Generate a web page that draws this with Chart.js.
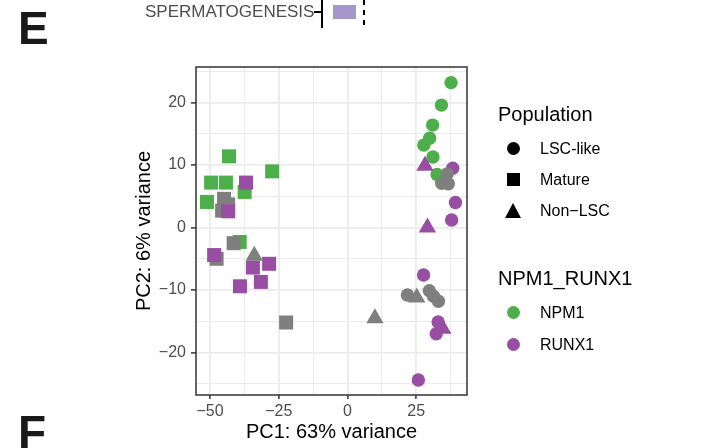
<!DOCTYPE html>
<html>
<head>
<meta charset="utf-8">
<script src="https://cdn.jsdelivr.net/npm/chart.js@4.4.1/dist/chart.umd.min.js"></script>
<style>
  body { margin: 0; background: #fff; font-family: "Liberation Sans", Arial, sans-serif; }
  #page { position: relative; width: 705px; height: 448px; overflow: hidden; }
  #chart { position: absolute; left: 0; top: 0; }
  .abs { position: absolute; white-space: nowrap; }
  .panel-letter { font-weight: bold; font-size: 46px; line-height: 46px; color: #1a1a1a; }
  .lg-title { font-size: 20px; line-height: 24px; color: #000; }
  .lg-item { font-size: 16px; line-height: 20px; color: #000; }
  .key-circle { width: 13px; height: 13px; border-radius: 50%; }
  .key-square { width: 13px; height: 13px; background: #000; }
  .key-tri { width: 0; height: 0; border-left: 8.5px solid transparent; border-right: 8.5px solid transparent; border-bottom: 15px solid #000; }
</style>
</head>
<body>
<div id="page">
  <canvas id="chart" width="705" height="448"></canvas>

  <!-- bits of the figure above panel E -->
  <div class="abs" style="left:145px; top:2px; font-size:17px; line-height:20px; color:#4d4d4d;">SPERMATOGENESIS</div>
  <div class="abs" style="left:314px; top:11px; width:8px; height:2px; background:#000;"></div>
  <div class="abs" style="left:321px; top:0; width:2px; height:28px; background:#000;"></div>
  <div class="abs" style="left:333px; top:5px; width:23px; height:14px; background:#a397cb;"></div>
  <div class="abs" style="left:363px; top:0; width:2px; height:28px; background:repeating-linear-gradient(#000 0 5px, transparent 5px 10px);"></div>

  <div class="abs panel-letter" style="left:18px; top:5px;">E</div>
  <div class="abs panel-letter" style="left:18px; top:409px;">F</div>

  <!-- legend -->
  <div class="abs lg-title" style="left:498px; top:102px;">Population</div>
  <div class="abs key-circle" style="left:507px; top:142px; background:#000;"></div>
  <div class="abs lg-item" style="left:540px; top:139px;">LSC-like</div>
  <div class="abs key-square" style="left:507px; top:173px;"></div>
  <div class="abs lg-item" style="left:540px; top:170px;">Mature</div>
  <div class="abs key-tri" style="left:505px; top:203px;"></div>
  <div class="abs lg-item" style="left:540px; top:201px;">Non&minus;LSC</div>

  <div class="abs lg-title" style="left:498px; top:266px;">NPM1_RUNX1</div>
  <div class="abs key-circle" style="left:507px; top:306px; background:#4daf4a;"></div>
  <div class="abs lg-item" style="left:540px; top:303px;">NPM1</div>
  <div class="abs key-circle" style="left:507px; top:338px; background:#984ea3;"></div>
  <div class="abs lg-item" style="left:540px; top:335px;">RUNX1</div>
</div>

<script>
// axis breaks (labelled ones are the major grid lines)
const xTicks = [-50, -37.5, -25, -12.5, 0, 12.5, 25, 37.5]
const xMajor = [-50, -25, 0, 25]
const yTicks = [-25, -20, -15, -10, -5, 0, 5, 10, 15, 20, 25]
const yMajor = [-20, -10, 0, 10, 20]

// [PC1, PC2] per sample, split by population and genotype
const lscNpm1 = [[37.7, 23.2], [34.2, 19.6], [31.0, 16.4], [29.9, 14.3], [27.8, 13.2], [31.1, 11.3], [32.6, 8.5]]
const lscRunx1 = [[38.3, 9.5], [39.3, 4.0], [37.9, 1.2], [27.7, -7.6], [33.0, -15.1], [32.3, -17.0], [25.8, -24.4]]
const lscOther = [[36.3, 8.6], [34.3, 7.1], [36.7, 7.0], [21.8, -10.8], [29.8, -10.1], [31.3, -11.0], [33.1, -11.8]]

const matureNpm1 = [[-43.1, 11.4], [-27.4, 9.0], [-49.6, 7.2], [-44.2, 7.2], [-37.4, 5.7], [-51.1, 4.1], [-43.9, 2.9], [-39.2, -2.3]]
const matureRunx1 = [[-36.9, 7.2], [-43.4, 2.6], [-48.5, -4.4], [-28.5, -5.8], [-34.4, -6.4], [-31.5, -8.7], [-39.1, -9.4]]
const matureOther = [[-44.9, 4.6], [-43.4, 3.7], [-45.6, 2.7], [-41.4, -2.5], [-47.6, -5.0], [-22.3, -15.2]]

const nonLscRunx1 = [[28.2, 9.9], [29.1, 0.0], [34.7, -16.2]]
const nonLscOther = [[-33.9, -4.5], [25.2, -11.2], [10.0, -14.5]]

const GREEN = '#4daf4a'
const PURPLE = '#984ea3'
const GREY = '#7f7f7f'

function toPoints(arr) {
    return arr.map(p => ({ x: p[0], y: p[1] }))
}

function makeSet(label, arr, color, style, radius) {
    return {
        label: label,
        data: toPoints(arr),
        pointStyle: style,
        pointRadius: radius,
        pointHoverRadius: radius,
        pointBackgroundColor: color,
        pointBorderWidth: 0,
        borderWidth: 0,
        showLine: false
    }
}

function fmt(v) {
    return v < 0 ? '\u2212' + Math.abs(v) : String(v)
}

// ggplot draws a full frame round the panel
const panelBorder = {
    id: 'panelBorder',
    afterDatasetsDraw(chart) {
        const { ctx, chartArea: a } = chart
        ctx.save()
        ctx.strokeStyle = '#333333'
        ctx.lineWidth = 1.5
        ctx.strokeRect(a.left, a.top, a.right - a.left, a.bottom - a.top)
        ctx.restore()
    }
}

function main() {
    const ctx = document.getElementById('chart').getContext('2d')
    new Chart(ctx, {
        type: 'scatter',
        data: {
            datasets: [
                // first dataset ends up on top
                makeSet('Non-LSC RUNX1', nonLscRunx1, PURPLE, 'triangle', 10),
                makeSet('Non-LSC NA', nonLscOther, GREY, 'triangle', 10),
                makeSet('LSC-like NA', lscOther, GREY, 'circle', 6.7),
                makeSet('LSC-like RUNX1', lscRunx1, PURPLE, 'circle', 6.7),
                makeSet('LSC-like NPM1', lscNpm1, GREEN, 'circle', 6.7),
                makeSet('Mature RUNX1', matureRunx1, PURPLE, 'rect', 9.9),
                makeSet('Mature NA', matureOther, GREY, 'rect', 9.9),
                makeSet('Mature NPM1', matureNpm1, GREEN, 'rect', 9.9)
            ]
        },
        options: {
            responsive: false,
            animation: false,
            devicePixelRatio: 1,
            layout: { padding: { left: 120, top: 67, right: 238, bottom: 0 } },
            plugins: {
                legend: { display: false },
                tooltip: { enabled: false }
            },
            scales: {
                x: {
                    type: 'linear',
                    min: -55.1,
                    max: 43.5,
                    afterBuildTicks: axis => { axis.ticks = xTicks.map(v => ({ value: v })) },
                    afterFit: axis => { axis.height = 53 },
                    border: { display: false },
                    grid: {
                        color: '#ebebeb',
                        lineWidth: c => (c.tick && xMajor.includes(c.tick.value)) ? 1.8 : 1,
                        tickColor: c => (c.tick && xMajor.includes(c.tick.value)) ? '#333333' : 'rgba(0,0,0,0)',
                        tickWidth: 1.5,
                        tickLength: 4
                    },
                    ticks: {
                        autoSkip: false,
                        maxRotation: 0,
                        padding: 3,
                        color: '#4d4d4d',
                        font: { family: 'Liberation Sans', size: 16 },
                        callback: v => xMajor.includes(v) ? fmt(v) : ''
                    },
                    title: {
                        display: true,
                        text: 'PC1: 63% variance',
                        color: '#000',
                        font: { family: 'Liberation Sans', size: 20 },
                        padding: { top: 0, bottom: 4 }
                    }
                },
                y: {
                    type: 'linear',
                    min: -26.8,
                    max: 25.7,
                    afterBuildTicks: axis => { axis.ticks = yTicks.map(v => ({ value: v })) },
                    afterFit: axis => { axis.width = 76 },
                    border: { display: false },
                    grid: {
                        color: '#ebebeb',
                        lineWidth: c => (c.tick && yMajor.includes(c.tick.value)) ? 1.8 : 1,
                        tickColor: c => (c.tick && yMajor.includes(c.tick.value)) ? '#333333' : 'rgba(0,0,0,0)',
                        tickWidth: 1.5,
                        tickLength: 5
                    },
                    ticks: {
                        autoSkip: false,
                        padding: 5,
                        color: '#4d4d4d',
                        font: { family: 'Liberation Sans', size: 16 },
                        callback: v => yMajor.includes(v) ? fmt(v) : ''
                    },
                    title: {
                        display: true,
                        text: 'PC2: 6% variance',
                        color: '#000',
                        font: { family: 'Liberation Sans', size: 20 },
                        padding: { top: 12, bottom: 0 }
                    }
                }
            }
        },
        plugins: [panelBorder]
    })
}

window.onload = main
</script>
</body>
</html>
